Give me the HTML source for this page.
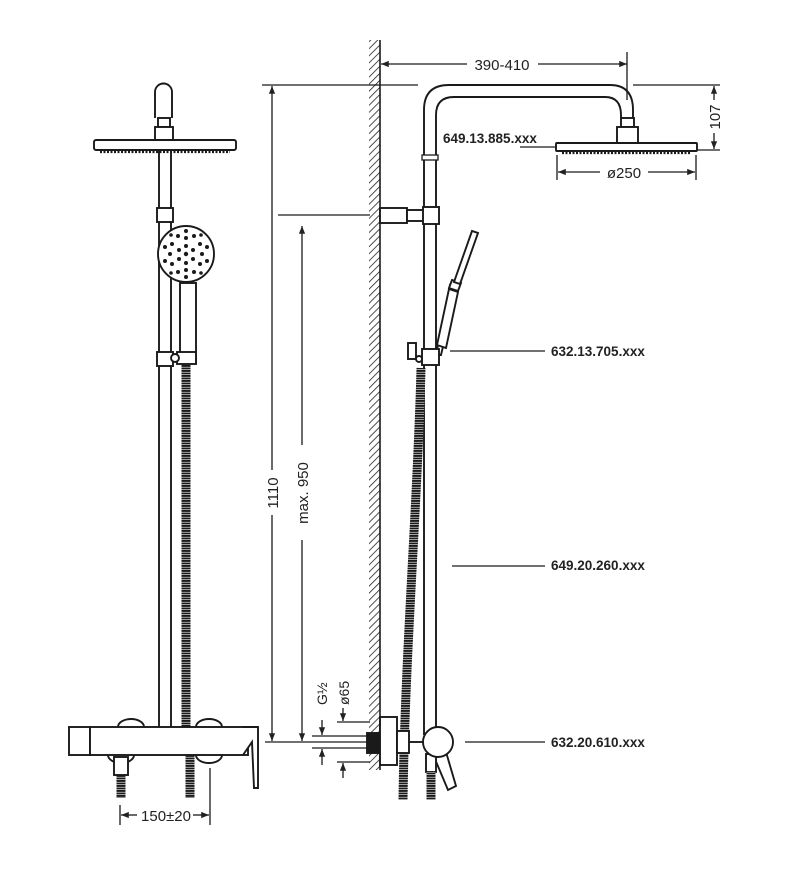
<!DOCTYPE html>
<html><head><meta charset="utf-8"><style>
html,body{margin:0;padding:0;background:#fff;}
svg{display:block;}
text{font-family:"Liberation Sans",Arial,sans-serif;fill:#222;}
</style></head><body>
<svg width="800" height="876" viewBox="0 0 800 876" xmlns="http://www.w3.org/2000/svg">
<defs>
<pattern id="hatch" width="5" height="5" patternUnits="userSpaceOnUse" patternTransform="rotate(45)">
<line x1="0" y1="0" x2="0" y2="5" stroke="#222" stroke-width="1.6"/>
</pattern>
<pattern id="hose" width="8" height="2.5" patternUnits="userSpaceOnUse">
<rect width="8" height="2.5" fill="#fff"/><rect width="8" height="1.9" fill="#1a1a1a"/>
</pattern>
<marker id="ar" viewBox="0 0 10 10" refX="10" refY="5" markerWidth="8" markerHeight="6" orient="auto-start-reverse"><path d="M0,1 L10,5 L0,9 z" fill="#222"/></marker>
</defs>
<g fill="none" stroke="#1a1a1a" stroke-width="1.9">
<!-- LEFT VIEW -->
<path d="M155,118 V92 a8.5,8.5 0 0 1 17,0 V118" fill="#fff"/>
<rect x="158" y="118" width="12" height="9" fill="#fff"/>
<rect x="155" y="127" width="18" height="13" fill="#fff"/>
<rect x="94" y="140" width="142" height="10" rx="2" fill="#fff"/>
<line x1="100" y1="152" x2="230" y2="152" stroke-dasharray="2,1.5" stroke-width="2.2"/>
<line x1="159" y1="150" x2="159" y2="727"/>
<line x1="171" y1="150" x2="171" y2="727"/>
<rect x="157" y="208" width="16" height="14" fill="#fff"/>
<path d="M186,283 L186,745" stroke="url(#hose)" stroke-width="9"/>
<rect x="180" y="283" width="16" height="80" fill="#fff"/>
<circle cx="186" cy="254" r="28" fill="#fff"/>
<rect x="157" y="352" width="16" height="14" fill="#fff"/>
<rect x="177" y="352" width="19" height="12" fill="#fff"/>
<circle cx="175" cy="358" r="4" fill="#fff"/>
<!-- left mixer -->
<path d="M118,727 a13,8 0 0 1 26,0" fill="#fff"/>
<path d="M196,727 a13,8 0 0 1 26,0" fill="#fff"/>
<path d="M108,755 a13,8 0 0 0 26,0" fill="#fff"/>
<path d="M196,755 a13,8 0 0 0 26,0" fill="#fff"/>
<rect x="69" y="727" width="21" height="28" fill="#fff"/>
<rect x="90" y="727" width="158" height="28" fill="#fff"/>
<path d="M243,727 H258 V788 H254 L252,742 L243,755" fill="#fff"/>
<rect x="114" y="757" width="14" height="18" fill="#fff"/>
<path d="M121,775 V798" stroke="url(#hose)" stroke-width="9"/>
<path d="M190,755 V798" stroke="url(#hose)" stroke-width="9"/>
<line x1="210" y1="768" x2="210" y2="825" stroke-width="1.3"/>
<line x1="120" y1="805" x2="120" y2="825" stroke-width="1.3"/>
<line x1="121" y1="815" x2="137" y2="815" stroke-width="1.3" marker-start="url(#ar)"/>
<line x1="193" y1="815" x2="209" y2="815" stroke-width="1.3" marker-end="url(#ar)"/>

<!-- WALL -->
<rect x="369" y="40" width="11" height="730" fill="url(#hatch)" stroke="none"/>
<line x1="380" y1="40" x2="380" y2="770" stroke-width="1.6"/>

<!-- RIGHT VIEW pipe & arm -->
<path d="M424,735 V110 Q424,85 449,85 H610 Q633,85 633,110 V118"/>
<path d="M436,735 V115 Q436,97 454,97 H605 Q621,97 621,115 V118"/>
<rect x="621" y="118" width="13" height="9" fill="#fff"/>
<rect x="617" y="127" width="21" height="16" fill="#fff"/>
<rect x="556" y="143" width="141" height="8" rx="1" fill="#fff"/>
<line x1="562" y1="153" x2="690" y2="153" stroke-dasharray="2,1.5" stroke-width="2.2"/>
<rect x="422" y="155" width="16" height="5" fill="#fff" stroke-width="1.3"/>
<rect x="380" y="208" width="27" height="15" fill="#fff"/>
<rect x="407" y="210" width="17" height="11" fill="#fff"/>
<rect x="423" y="207" width="16" height="17" fill="#fff"/>
<!-- hand shower -->
<path d="M436,355 L441,355 L457,288 L450,285 Z" fill="#fff"/>
<path d="M437,345 L446,348 L458,292 L449,289 Z" fill="#fff"/>
<path d="M449,288 L458,291 L461,283 L452,280 Z" fill="#fff"/>
<path d="M454,282 L460,284 L478,233 L472,231 Z" fill="#fff"/>
<path d="M421,368 C418,500 405,650 403,800" stroke="url(#hose)" stroke-width="9"/>
<rect x="422" y="349" width="17" height="16" fill="#fff"/>
<rect x="408" y="343" width="8" height="16" fill="#fff"/>
<circle cx="419" cy="359" r="3" fill="#fff"/>
<!-- right mixer -->
<rect x="367" y="733" width="13" height="20" fill="#1a1a1a"/>
<rect x="380" y="717" width="17" height="48" fill="#fff"/>
<rect x="397" y="731" width="12" height="22" fill="#fff"/>
<line x1="409" y1="742" x2="424" y2="742"/>
<path d="M432,752 L448,790 L456,786 L446,752" fill="#fff"/>
<rect x="426" y="754" width="10" height="18" fill="#fff"/>
<path d="M431,772 V800" stroke="url(#hose)" stroke-width="9"/>
<circle cx="438" cy="742" r="15" fill="#fff"/>

<!-- DIMENSIONS -->
<g stroke-width="1.3">
<line x1="381" y1="64" x2="467" y2="64" marker-start="url(#ar)"/>
<line x1="538" y1="64" x2="627" y2="64" marker-end="url(#ar)"/>
<line x1="627" y1="52" x2="627" y2="100"/>
<line x1="633" y1="85" x2="720" y2="85"/>
<line x1="697" y1="150" x2="720" y2="150"/>
<line x1="714" y1="86" x2="714" y2="100" marker-start="url(#ar)"/>
<line x1="714" y1="133" x2="714" y2="149" marker-end="url(#ar)"/>
<line x1="557" y1="155" x2="557" y2="180"/>
<line x1="696" y1="155" x2="696" y2="180"/>
<line x1="558" y1="172" x2="600" y2="172" marker-start="url(#ar)"/>
<line x1="648" y1="172" x2="695" y2="172" marker-end="url(#ar)"/>
<line x1="520" y1="147" x2="555" y2="147"/>
<line x1="450" y1="351" x2="545" y2="351"/>
<line x1="452" y1="566" x2="545" y2="566"/>
<line x1="465" y1="742" x2="545" y2="742"/>
<line x1="262" y1="85" x2="418" y2="85"/>
<line x1="278" y1="215" x2="370" y2="215"/>
<line x1="265" y1="742" x2="370" y2="742"/>
<line x1="272" y1="86" x2="272" y2="470" marker-start="url(#ar)"/>
<line x1="272" y1="515" x2="272" y2="741" marker-end="url(#ar)"/>
<line x1="302" y1="226" x2="302" y2="445" marker-start="url(#ar)"/>
<line x1="302" y1="540" x2="302" y2="741" marker-end="url(#ar)"/>
<line x1="312" y1="736" x2="370" y2="736"/>
<line x1="312" y1="748" x2="370" y2="748"/>
<line x1="322" y1="720" x2="322" y2="735" marker-end="url(#ar)"/>
<line x1="322" y1="765" x2="322" y2="749" marker-end="url(#ar)"/>
<line x1="337" y1="722" x2="370" y2="722"/>
<line x1="337" y1="762" x2="370" y2="762"/>
<line x1="343" y1="708" x2="343" y2="721" marker-end="url(#ar)"/>
<line x1="343" y1="778" x2="343" y2="763" marker-end="url(#ar)"/>
</g>
</g>
<text x="166" y="821" font-size="15" text-anchor="middle">150±20</text>
<text x="502" y="70" font-size="15" text-anchor="middle">390-410</text>
<text x="624" y="178" font-size="15" text-anchor="middle">ø250</text>
<text transform="translate(720,117) rotate(-90)" font-size="15" text-anchor="middle">107</text>
<text transform="translate(278,493) rotate(-90)" font-size="15" text-anchor="middle">1110</text>
<text transform="translate(308,493) rotate(-90)" font-size="15" text-anchor="middle">max. 950</text>
<text transform="translate(327,705) rotate(-90)" font-size="14">G½</text>
<text transform="translate(349,705) rotate(-90)" font-size="14">ø65</text>
<g font-size="13.5" font-weight="bold">
<text x="443" y="143">649.13.885.xxx</text>
<text x="551" y="356">632.13.705.xxx</text>
<text x="551" y="570">649.20.260.xxx</text>
<text x="551" y="747">632.20.610.xxx</text>
</g>
<g fill="#1a1a1a">
<circle cx="186" cy="254" r="2.2"/>
<circle cx="179" cy="250" r="2"/><circle cx="193" cy="250" r="2"/><circle cx="179" cy="259" r="2"/><circle cx="193" cy="259" r="2"/><circle cx="186" cy="246" r="2"/><circle cx="186" cy="263" r="2"/>
<circle cx="172" cy="244" r="2"/><circle cx="200" cy="244" r="2"/><circle cx="172" cy="264" r="2"/><circle cx="200" cy="264" r="2"/><circle cx="186" cy="238" r="2"/><circle cx="186" cy="270" r="2"/><circle cx="170" cy="254" r="2"/><circle cx="202" cy="254" r="2"/>
<circle cx="178" cy="236" r="2"/><circle cx="194" cy="236" r="2"/><circle cx="178" cy="272" r="2"/><circle cx="194" cy="272" r="2"/>
<circle cx="165" cy="247" r="2"/><circle cx="207" cy="247" r="2"/><circle cx="165" cy="261" r="2"/><circle cx="207" cy="261" r="2"/>
<circle cx="186" cy="231" r="2"/><circle cx="186" cy="277" r="2"/>
<circle cx="171" cy="235" r="1.8"/><circle cx="201" cy="235" r="1.8"/><circle cx="171" cy="273" r="1.8"/><circle cx="201" cy="273" r="1.8"/>
</g>
</svg>
</body></html>
